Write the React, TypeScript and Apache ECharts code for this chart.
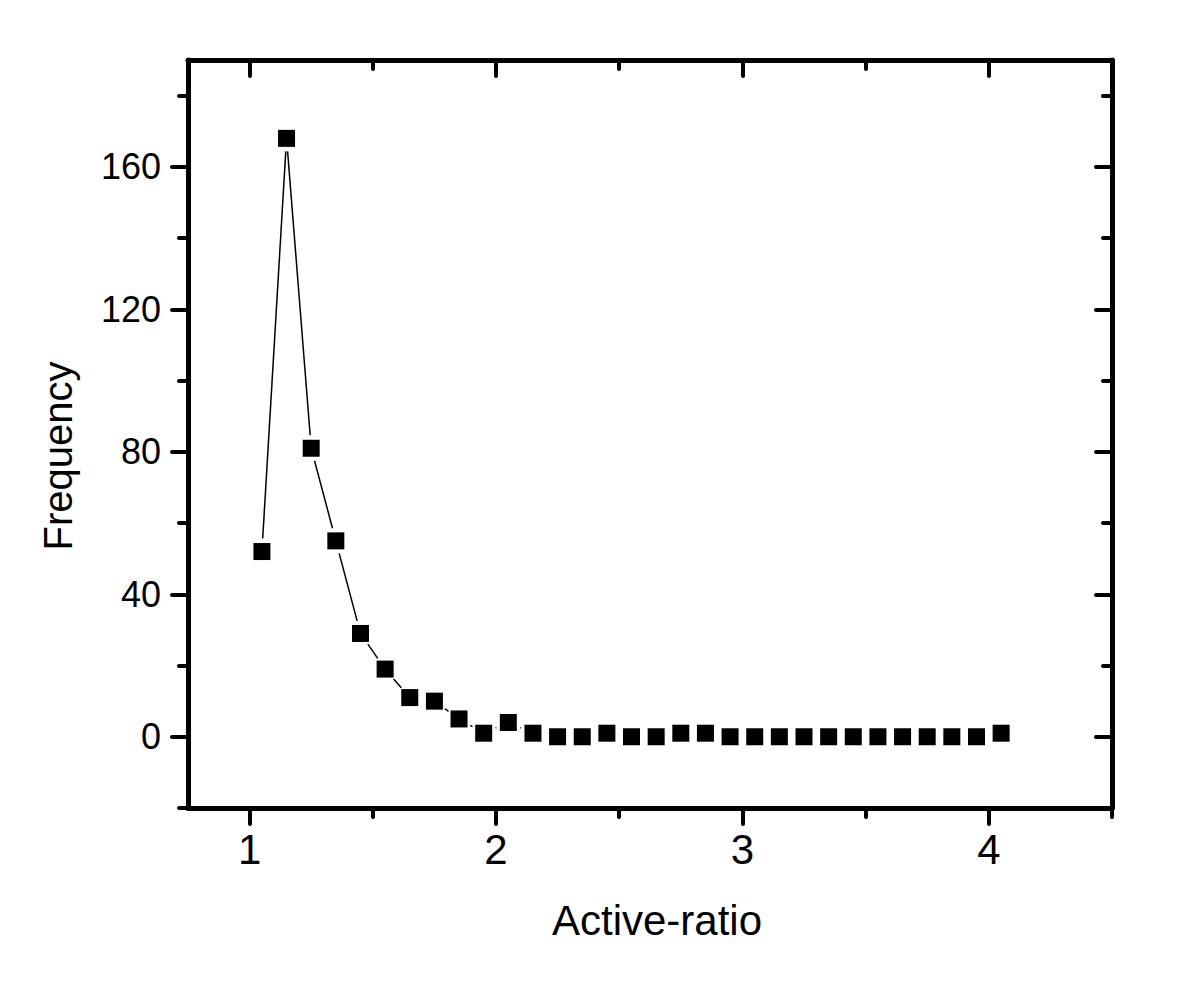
import React, { useEffect, useRef } from "react";
import * as echarts from "echarts";

const xValues = [1.05, 1.15, 1.25, 1.35, 1.45, 1.55, 1.65, 1.75, 1.85, 1.95, 2.05, 2.15, 2.25, 2.35, 2.45, 2.55, 2.65, 2.75, 2.85, 2.95, 3.05, 3.15, 3.25, 3.35, 3.45, 3.55, 3.65, 3.75, 3.85, 3.95, 4.05];
const frequency = [52, 168, 81, 55, 29, 19, 11, 10, 5, 1, 4, 1, 0, 0, 1, 0, 0, 1, 1, 0, 0, 0, 0, 0, 0, 0, 0, 0, 0, 0, 1];
const xMajorTicks = [1, 2, 3, 4];
const xMinorTicks = [1.5, 2.5, 3.5, 4.5];
const yMajorTicks = [0, 40, 80, 120, 160];
const yMinorTicks = [-20, 20, 60, 100, 140, 180];
const xTitle = "Active-ratio";
const yTitle = "Frequency";

const FONT = "'Liberation Sans', Arial, sans-serif";

export default function App() {
  const ref = useRef<HTMLDivElement>(null);
  useEffect(() => {
    if (!ref.current) return;
    const chart = echarts.init(ref.current, null, { renderer: "svg" });
    const points = xValues.map((x, i) => [x, frequency[i]]);
    const segs = xValues.slice(0, -1).map((x, i) => [x, frequency[i], xValues[i + 1], frequency[i + 1]]);
    const axLine = { show: true, onZero: false, lineStyle: { color: "#000", width: 5, cap: "round" } };
    const noLine = { show: false, onZero: false };
    const majorTick = (vals: number[], inside: boolean) => ({
      show: true, inside, length: 16, customValues: vals,
      lineStyle: { color: "#000", width: 4, cap: "round" },
    });
    const minorTick = (vals: number[], inside: boolean) => ({
      show: true, inside, length: 9, customValues: vals,
      lineStyle: { color: "#000", width: 4, cap: "round" },
    });
    const xBase = { type: "value", min: 0.75, max: 4.5, splitLine: { show: false } };
    const yBase = { type: "value", min: -20, max: 190, splitLine: { show: false } };
    const option: any = {
      animation: false,
      backgroundColor: "#fff",
      grid: { left: 188, right: 88, top: 60, bottom: 188 },
      xAxis: [
        { ...xBase, position: "bottom", axisLine: axLine, axisTick: majorTick(xMajorTicks, false),
          axisLabel: { show: true, customValues: xMajorTicks, margin: 20, fontSize: 42, color: "#000", fontFamily: FONT } },
        { ...xBase, position: "bottom", axisLine: noLine, axisTick: minorTick(xMinorTicks, false), axisLabel: { show: false } },
        { ...xBase, position: "top", axisLine: axLine, axisTick: majorTick(xMajorTicks, true), axisLabel: { show: false } },
        { ...xBase, position: "top", axisLine: noLine, axisTick: minorTick(xMinorTicks, true), axisLabel: { show: false } },
      ],
      yAxis: [
        { ...yBase, position: "left", axisLine: axLine, axisTick: majorTick(yMajorTicks, false),
          axisLabel: { show: true, customValues: yMajorTicks, margin: 27, fontSize: 36, color: "#000", fontFamily: FONT, padding: [0, 0, 8, 0] } },
        { ...yBase, position: "left", axisLine: noLine, axisTick: minorTick(yMinorTicks, false), axisLabel: { show: false } },
        { ...yBase, position: "right", axisLine: axLine, axisTick: majorTick(yMajorTicks, true), axisLabel: { show: false } },
        { ...yBase, position: "right", axisLine: noLine, axisTick: minorTick(yMinorTicks, true), axisLabel: { show: false } },
      ],
      graphic: [
        { type: "text", x: 657, y: 920, style: { text: xTitle, fontSize: 42, fontFamily: FONT, fill: "#000", textAlign: "center", textVerticalAlign: "middle" } },
        { type: "text", x: 58, y: 456, rotation: Math.PI / 2, style: { text: yTitle, fontSize: 40, fontFamily: FONT, fill: "#000", textAlign: "center", textVerticalAlign: "middle" } },
      ],
      series: [
        {
          type: "custom",
          xAxisIndex: 0, yAxisIndex: 0,
          data: segs,
          encode: { x: [0, 2], y: [1, 3] },
          clip: false,
          renderItem: (params: any, api: any) => {
            const p1 = api.coord([api.value(0), api.value(1)]);
            const p2 = api.coord([api.value(2), api.value(3)]);
            const dx = p2[0] - p1[0], dy = p2[1] - p1[1];
            const d = Math.sqrt(dx * dx + dy * dy);
            const gap = 13;
            if (d <= gap * 2) return null;
            const ux = dx / d, uy = dy / d;
            return {
              type: "line",
              shape: { x1: p1[0] + ux * gap, y1: p1[1] + uy * gap, x2: p2[0] - ux * gap, y2: p2[1] - uy * gap },
              style: { stroke: "#000", lineWidth: 1.5 },
            };
          },
        },
        {
          type: "scatter",
          xAxisIndex: 0, yAxisIndex: 0,
          data: points,
          symbol: "rect",
          symbolSize: 17,
          itemStyle: { color: "#000", opacity: 1 },
        },
      ],
    };
    chart.setOption(option);
    return () => chart.dispose();
  }, []);
  return <div ref={ref} style={{ position: "absolute", left: 0, top: 0, width: 1200, height: 996 }} />;
}
